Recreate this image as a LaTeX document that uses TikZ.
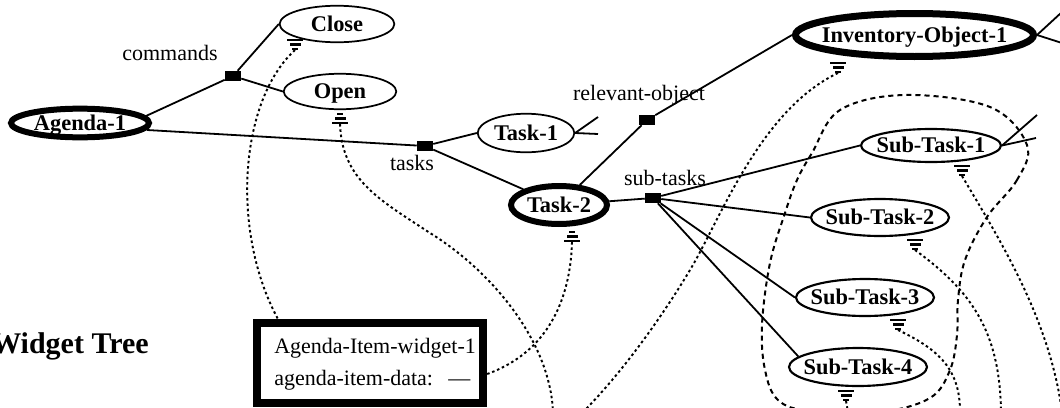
\documentclass[tikz,border=0pt]{standalone}
\usepackage{fontspec}
\setmainfont{Liberation Serif}
\usetikzlibrary{calc,shapes.geometric}
\newcommand{\zbox}[1]{\makebox[0pt]{#1}}
\tikzset{
  lbl/.style={font=\fontsize{16.5}{19}\selectfont, inner sep=0pt},
  obj/.style={ellipse, draw, line width=1.3pt, inner sep=0pt,
    font=\fontsize{16.8}{19}\selectfont\bfseries, text height=11pt, text depth=0pt},
  subobj/.style={obj, line width=1.6pt},
  thickobj/.style={obj, line width=4.5pt},
  slot/.style={rectangle, fill=black, draw=none, minimum width=12pt, minimum height=7.5pt, inner sep=0pt},
  link/.style={line width=1.35pt},
  ptr/.style={line width=1.45pt, dash pattern=on 1.9pt off 2.1pt},
  loopline/.style={line width=1.5pt, dash pattern=on 3.8pt off 3pt},
  gndsym/.pic={
    \fill (-8,-11.5) rectangle (8,-9);
    \fill (-5.5,-7) rectangle (5.5,-4.5);
    \fill (-3,-2.5) rectangle (3,0);
  },
  pyrsym/.pic={
    \fill (-3,-11.5) rectangle (3,-9);
    \fill (-5.5,-7) rectangle (5.5,-4.5);
    \fill (-8,-2.5) rectangle (8,0);
  }
}
\begin{document}
\begin{tikzpicture}[x=0.75pt,y=-0.75pt]
\useasboundingbox (0,0) rectangle (1060,407);
\clip (0,0) rectangle (1060,407);

% object nodes
\node[thickobj, minimum width=103.5pt, minimum height=21.5pt] (agenda) at (80,123) {\zbox{Agenda-1}};
\node[obj, minimum width=86pt, minimum height=27.4pt] (close) at (337,24) {\zbox{Close}};
\node[obj, minimum width=84.4pt, minimum height=26.6pt] (open) at (340,91.5) {\zbox{Open}};
\node[obj, minimum width=72.4pt, minimum height=28.9pt] (task1) at (526,133) {\zbox{Task-1}};
\node[thickobj, minimum width=72pt, minimum height=28.5pt] (task2) at (559,205) {\zbox{Task-2}};
\node[obj, line width=5.25pt, minimum width=178.5pt, minimum height=32.25pt] (inv) at (914.5,35) {\zbox{Inventory-Object-1}};
\node[subobj, minimum width=105pt, minimum height=24.75pt] (st1) at (931,145.5) {\zbox{Sub-Task-1}};
\node[subobj, minimum width=103.5pt, minimum height=27.75pt] (st2) at (880,217.5) {\zbox{Sub-Task-2}};
\node[subobj, minimum width=103.5pt, minimum height=27.75pt] (st3) at (865,297.5) {\zbox{Sub-Task-3}};
\node[subobj, minimum width=103.5pt, minimum height=28.5pt] (st4) at (858,367) {\zbox{Sub-Task-4}};

% slots
\node[slot] (cmdslot) at (233,76) {};
\node[slot] (taskslot) at (425,146) {};
\node[slot] (relslot) at (647,120) {};
\node[slot] (subslot) at (653,198) {};

% labels
\node[lbl, anchor=base] (cmdlbl) at (170,60) {commands};
\node[lbl, anchor=base] (tasklbl) at (412,170) {tasks};
\node[lbl, anchor=base] (rellbl) at (639,100) {relevant-object};
\node[lbl, anchor=base] (sublbl) at (665,185) {sub-tasks};

% title
\node[font=\fontsize{22.5}{27}\selectfont\bfseries, inner sep=0pt, anchor=base east] (wtitle) at (149,353) {Widget Tree};

% widget box
\node[draw, line width=6.3pt, minimum width=169.5pt, minimum height=60pt, inner sep=0pt] (widget) at (370,363) {};
\node[lbl, anchor=base west] (wl1) at (274,353) {Agenda-Item-widget-1};
\node[lbl, anchor=base west] (wl2) at (274,385) {agenda-item-data: \hspace{6pt}—};

% solid links
\draw[link] ($(agenda.center)+(66,-7)$) -- (cmdslot);
\draw[link] (cmdslot) -- (close.west);
\draw[link] (cmdslot) -- (open.west);
\draw[link] ($(agenda.center)+(67,7)$) -- (taskslot);
\draw[link] (taskslot) -- (task1.west);
\draw[link] (taskslot) -- (task2);
\draw[link] (task2) -- (relslot);
\draw[link] (relslot) -- (inv.west);
\draw[link] (task2) -- (subslot);
\draw[link] (subslot) -- (st1.west);
\draw[link] (subslot) -- (st2.west);
\draw[link] (subslot) -- (st3.west);
\draw[link] (subslot) -- (st4.170);

% stubs
\coordinate (t1a) at (598,117);
\coordinate (t1b) at (598,134);
\coordinate (inva) at (1062,12);
\coordinate (invb) at (1062,43);
\coordinate (st1a) at (1037,115);
\coordinate (st1b) at (1036,138);
\draw[link] (task1.east) -- (t1a);
\draw[link] (task1.east) -- (t1b);
\draw[link] (inv.east) -- (inva);
\draw[link] (inv.east) -- (invb);
\draw[link] (st1.east) -- (st1a);
\draw[link] (st1.east) -- (st1b);

% symbols
\coordinate (symclose) at (295,50);
\coordinate (symopen) at (340,124);
\coordinate (symtask2) at (572,242);
\coordinate (syminv) at (838,73);
\coordinate (symst1) at (962,176);
\coordinate (symst2) at (915,250);
\coordinate (symst3) at (898,330);
\coordinate (symst4) at (846,401);
\pic at (symclose) {gndsym};
\pic at (symopen) {pyrsym};
\pic at (symtask2) {pyrsym};
\pic at (syminv) {gndsym};
\pic at (symst1) {gndsym};
\pic at (symst2) {gndsym};
\pic at (symst3) {gndsym};
\pic at (symst4) {gndsym};

% free ends
\coordinate (endopen) at (553,412);
\coordinate (endinv) at (583,412);
\coordinate (endst1) at (1062,412);
\coordinate (endst2) at (1001,412);
\coordinate (endst3) at (960,412);
\coordinate (endst4) at (848,412);

% pointers
\draw[ptr] (symclose) .. controls (240,100) and (230,230) .. ($(widget.north west)+(25,0)$);
\draw[ptr] (symopen) .. controls (342,180) and (380,200) .. (430,233) .. controls (490,270) and (550,340) .. (endopen);
\draw[ptr] (symtask2) .. controls (570,310) and (540,355) .. ($(widget.east)+(0,11)$);
\draw[ptr] (syminv) .. controls (760,110) and (720,220) .. (690,270) .. controls (660,320) and (620,375) .. (endinv);
\draw[ptr] (symst1) .. controls (1000,240) and (1050,320) .. (endst1);
\draw[ptr] (symst2) .. controls (970,290) and (1000,330) .. (endst2);
\draw[ptr] (symst3) .. controls (940,350) and (960,370) .. (endst3);
\draw[ptr] (symst4) -- (endst4);

% dashed loop
\draw[loopline] plot[smooth cycle, tension=0.6] coordinates {
  (1027,145) (1017,180) (987,217) (965,260) (958,300) (957,335) (950,370)
  (930,398) (880,412) (810,411) (778,400) (765,370) (762,325) (770,263)
  (785,213) (797,180) (812,153) (840,110) (905,95) (990,107)};
\end{tikzpicture}
\end{document}
